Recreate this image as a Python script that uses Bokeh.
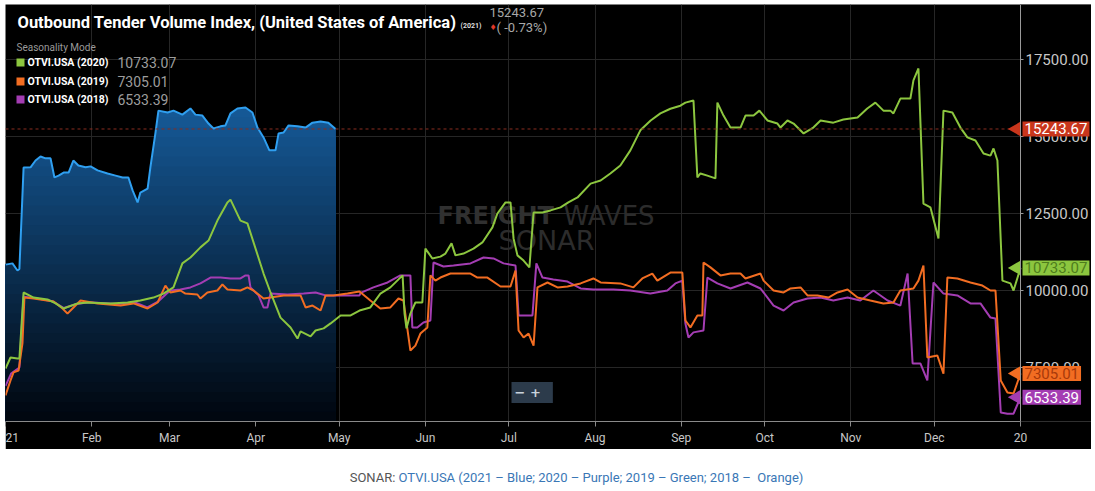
import numpy as np
from bokeh.plotting import figure
from bokeh.models import Range1d, FixedTicker, NumeralTickFormatter, Label, BoxAnnotation, Div
from bokeh.layouts import column
from bokeh.embed import file_html
from bokeh.resources import INLINE

# ---------------- data (x = day of year on the seasonality axis) ----------------
month_ticks = [0, 31, 59, 90, 120, 151, 181, 212, 243, 273, 304, 334, 365]
month_labels = ["21", "Feb", "Mar", "Apr", "May", "Jun", "Jul", "Aug", "Sep", "Oct", "Nov", "Dec", "20"]
y_ticks = [7500, 10000, 12500, 15000, 17500]

blue_2021 = [(0, 10840), (2.5, 10880), (4.3, 10650), (5, 10700), (6.5, 13990), (9, 14000), (10.8, 14220),
             (12.6, 14350), (14.4, 14290), (16.2, 14290), (17.6, 13670), (19.1, 13730), (20.9, 13830),
             (22.7, 13830), (24.4, 14220), (26.2, 14060), (28.8, 14000), (30.6, 14030), (33.1, 13900),
             (36.7, 13800), (39.6, 13730), (42.1, 13670), (44.2, 13670), (45.7, 13250), (47.5, 12860),
             (48.5, 13180), (51.1, 13310), (52.1, 14000), (53.9, 15100), (55, 15840), (58.3, 15780),
             (60.4, 15840), (63.6, 15710), (66.5, 15910), (68.3, 15710), (70.8, 15680), (73, 15420),
             (74.8, 15260), (77.3, 15330), (79.1, 15360), (80.9, 15750), (83.4, 15910), (86.3, 15940),
             (88.8, 15780), (90.6, 15290), (92.8, 14970), (94.9, 14550), (97.1, 14550), (98.2, 15100),
             (100, 15130), (101.8, 15360), (105, 15330), (107.9, 15290), (110.4, 15450), (113.3, 15490),
             (116.1, 15450), (118.7, 15243.67)]

green_2020 = [(0, 7467), (1.8, 7825), (4.3, 7790), (5.0, 7790), (6.5, 9935), (10.1, 9770), (15.1, 9710),
              (18.0, 9580), (20.9, 9415), (25.9, 9580), (29.5, 9610), (37.8, 9580), (43.9, 9610),
              (48.5, 9675), (53.2, 9770), (56.8, 9900), (60.4, 10100), (63.6, 10880), (66.5, 11070),
              (70.1, 11400), (73.0, 11620), (76.2, 12270), (79.8, 12860), (80.9, 12950), (84.5, 12270),
              (87.0, 12180), (92.8, 10550), (95.3, 9935), (98.9, 9120), (102.5, 8800), (105.0, 8440),
              (106.1, 8670), (109.7, 8510), (111.5, 8700), (114.4, 8770), (116.9, 8930), (120.5, 9190),
              (124.1, 9190), (127.3, 9350), (131.2, 9450), (134.8, 9900), (138.4, 10100), (142.8, 10490),
              (143.5, 9250), (144.2, 8770), (145.6, 9250), (147.4, 9610), (149.9, 9610), (151.0, 11360),
              (153.5, 11040), (156.4, 11100), (158.2, 11200), (160.4, 11530), (161.8, 11140),
              (164.7, 11200), (168.3, 11360), (171.5, 11560), (175.1, 12050), (176.9, 12500),
              (179.8, 12860), (181.6, 12860), (182.7, 11690), (184.1, 11140), (186.3, 10970),
              (188.4, 10750), (189.9, 12530), (193.1, 12530), (196.0, 12600), (199.6, 12700),
              (202.4, 12860), (205.7, 13020), (210.4, 13470), (214.0, 13570), (217.5, 13800),
              (221.1, 14060), (224.7, 14550), (228.3, 15200), (232.0, 15520), (235.5, 15750),
              (239.1, 15900), (242.7, 16000), (244.5, 16100), (247.4, 16170), (248.8, 13670),
              (249.9, 13800), (252.4, 13730), (255.3, 13640), (256.0, 16100), (258.2, 15680),
              (260.7, 15290), (264.3, 15290), (266.1, 15680), (269.0, 15680), (271.1, 15840),
              (274.0, 15520), (277.6, 15420), (278.7, 15290), (281.2, 15520), (283.4, 15420),
              (287.0, 15100), (290.5, 15290), (293.1, 15520), (297.7, 15450), (301.3, 15550),
              (306.4, 15620), (309.9, 15910), (312.8, 16100), (315.7, 15840), (318.2, 15840),
              (319.3, 15750), (321.8, 16230), (325.4, 16230), (326.5, 16820), (328.3, 17210),
              (330.1, 12820), (332.6, 12700), (335.5, 11690), (337.3, 15840), (340.5, 15780),
              (343.4, 15290), (345.9, 14970), (348.8, 14870), (351.7, 14450), (354.2, 14380),
              (355.3, 14610), (356.7, 14220), (358.5, 10320), (361.4, 10230), (362.5, 10000),
              (365, 10733.07)]

orange_2019 = [(0, 6590), (1.8, 7080), (2.9, 7340), (4.7, 7400), (6.1, 8280), (6.8, 9770), (10.1, 9740),
               (17.3, 9640), (20.5, 9415), (22.3, 9250), (24.1, 9415), (27.0, 9675), (33.1, 9580),
               (41.4, 9510), (46.0, 9580), (51.1, 9415), (54.7, 9610), (57.5, 10160), (59.3, 9935),
               (62.9, 10000), (64.7, 9900), (69.0, 9870), (70.1, 9740), (72.6, 9935), (76.2, 10000),
               (78.0, 10195), (79.8, 10030), (84.5, 10000), (87.0, 10100), (89.2, 10000), (92.8, 9740),
               (95.3, 9770), (100.0, 9840), (106.1, 9840), (107.9, 9450), (110.4, 9510), (113.3, 9350),
               (115.1, 9840), (117.9, 9840), (123.0, 9900), (127.3, 9970), (131.2, 9675), (134.8, 9415),
               (138.4, 9450), (141.3, 9740), (143.1, 9675), (145.6, 8050), (147.4, 8210), (149.2, 8600),
               (151.7, 8800), (152.8, 10490), (154.6, 10320), (156.4, 10420), (160.0, 10550),
               (163.6, 10550), (167.2, 10550), (169.7, 10420), (173.3, 10420), (178.0, 10130),
               (181.6, 10130), (183.4, 10650), (184.5, 8700), (186.3, 8475), (188.1, 8600), (189.9, 8210),
               (191.3, 10100), (194.9, 10260), (198.5, 10100), (202.1, 10130), (206.8, 10230),
               (211.4, 10390), (214.0, 10260), (221.1, 10230), (225.8, 10100), (229.0, 10390),
               (232.6, 10550), (234.4, 10320), (239.1, 10580), (243.4, 10580), (244.5, 9025),
               (246.3, 8800), (248.8, 9190), (250.6, 9190), (251.0, 10910), (253.5, 10750),
               (257.1, 10490), (260.7, 10550), (264.3, 10550), (266.1, 10390), (271.5, 10550),
               (272.6, 10320), (276.2, 10000), (279.8, 9935), (282.3, 10065), (285.9, 10100),
               (288.4, 9840), (292.0, 9840), (295.9, 9770), (299.2, 9935), (302.8, 10030), (306.4, 9770),
               (311.0, 9675), (315.7, 9580), (319.3, 9610), (321.8, 10000), (326.5, 10065),
               (328.3, 10320), (330.1, 10810), (331.5, 7825), (335.1, 7890), (337.3, 7300),
               (338.7, 10420), (342.3, 10390), (347.0, 10260), (351.3, 10160), (354.2, 10000),
               (356.0, 10000), (357.9, 7080), (360.3, 6690), (362.5, 6655), (365, 7305.01)]

purple_2018 = [(0, 6900), (2.0, 7300), (5.0, 7500), (6.5, 9800), (10.0, 9760), (17.0, 9650), (21.0, 9430),
               (25.0, 9550), (30.0, 9620), (40.0, 9560), (47.0, 9600), (51.0, 9450), (55.0, 9650),
               (58.0, 9900), (59.3, 10000), (62.9, 10030), (66.5, 10100), (70.1, 10230), (73.7, 10420),
               (77.3, 10420), (80.9, 10390), (84.5, 10390), (86.3, 10490), (87.4, 10490), (88.1, 10100),
               (91.0, 9840), (92.8, 9450), (94.2, 9450), (95.3, 9900), (101.4, 9870), (107.2, 9900),
               (111.5, 9935), (115.1, 9840), (120.5, 9840), (127.3, 9840), (127.7, 9920), (132.3, 10100),
               (137.4, 10260), (142.0, 10490), (145.6, 10490), (146.3, 8800), (148.1, 8800),
               (150.3, 8960), (152.8, 9025), (153.9, 10910), (157.5, 10780), (161.1, 10810),
               (167.2, 10880), (171.9, 11070), (175.5, 11040), (179.1, 10880), (183.4, 10810),
               (184.5, 9190), (187.7, 9190), (189.5, 9190), (190.9, 10880), (193.1, 10420),
               (197.0, 10360), (202.1, 10290), (206.8, 10065), (211.4, 10030), (218.6, 10030),
               (224.7, 10000), (231.9, 9900), (238.0, 10000), (240.9, 10230), (243.4, 10320),
               (244.5, 8930), (245.6, 8475), (247.4, 8640), (251.0, 8700), (252.4, 10420),
               (256.0, 10230), (260.7, 10065), (266.8, 10260), (271.5, 10065), (276.2, 9510),
               (279.8, 9350), (283.4, 9610), (288.4, 9740), (293.1, 9770), (297.7, 9675), (302.8, 9770),
               (307.4, 9675), (312.1, 10000), (317.2, 9675), (321.8, 9510), (324.4, 10550),
               (326.2, 7630), (329.0, 7630), (331.5, 7080), (333.7, 10260), (337.3, 9900),
               (342.3, 9840), (347.0, 9580), (350.6, 9580), (354.2, 9120), (356.0, 9090),
               (357.9, 6040), (360.3, 6000), (362.5, 6000), (365, 6533.39)]

last_2021 = 15243.67
change_2021 = "( -0.73%)"
legend_rows = [("OTVI.USA (2020)", "10733.07"), ("OTVI.USA (2019)", "7305.01"), ("OTVI.USA (2018)", "6533.39")]

# ---------------- styling ----------------
C_BLUE = "#2f9ff0"
C_GREEN = "#8cc63f"
C_ORANGE = "#f26d22"
C_PURPLE = "#a43db3"
C_RED = "#c9361c"

X0, X_END = 0, 365              # data span (Jan 1 .. Dec 31)
Y0, Y1 = 5746, 19286
FRAME_W, FRAME_H = 1015, 417    # pixels covered by the data span
FIG_W, FIG_H = 1086, 445
PAGE_LEFT, PAGE_TOP = 5, 4
X1 = X0 + (X_END - X0) * FIG_W / FRAME_W   # frame extends under the right-hand axis area


def px(xp):  # page pixel -> data x
    return X0 + (xp - PAGE_LEFT) * (X_END - X0) / FRAME_W


def py(yp):  # page pixel -> data y
    return Y1 - (yp - PAGE_TOP) * (Y1 - Y0) / FRAME_H


p = figure(width=FIG_W, height=FIG_H, x_range=Range1d(X0, X1), y_range=Range1d(Y0, Y1),
           y_axis_location="right", output_backend="svg", toolbar_location=None,
           background_fill_color="#000000", border_fill_color="#000000",
           min_border_left=0, min_border_top=0, min_border_right=0, min_border_bottom=28,
           outline_line_color=None)
p.margin = (PAGE_TOP, 4, 0, PAGE_LEFT)

xa = p.xaxis[0]
xa.ticker = FixedTicker(ticks=month_ticks)
xa.major_label_overrides = dict(zip(month_ticks, month_labels))
xa.bounds = (X0, X_END)
xa.axis_line_color = "#8a8a8a"
xa.major_tick_line_color = "#8a8a8a"
xa.major_tick_out = 5
xa.major_tick_in = 0
xa.minor_tick_line_color = None
xa.major_label_text_color = "#c8c8c8"
xa.major_label_text_font = "Roboto"
xa.major_label_text_font_size = "12px"
xa.major_label_standoff = 4

ya = p.yaxis[0]
ya.fixed_location = X_END
ya.ticker = FixedTicker(ticks=y_ticks)
ya.formatter = NumeralTickFormatter(format="0.00")
ya.axis_line_color = "#9a9a9a"
ya.major_tick_line_color = "#9a9a9a"
ya.major_tick_out = 3
ya.major_tick_in = 0
ya.minor_tick_line_color = None
ya.major_label_text_color = "#c8c8c8"
ya.major_label_text_font = "Roboto"
ya.major_label_text_font_size = "15px"
ya.major_label_standoff = 2

p.xgrid.ticker = FixedTicker(ticks=month_ticks)
p.ygrid.ticker = FixedTicker(ticks=y_ticks)
p.xgrid.grid_line_color = "#262626"
p.ygrid.grid_line_color = "#262626"
# keep the axis strip on the right free of grid lines
p.add_layout(BoxAnnotation(left=X_END, fill_color="#000000", fill_alpha=1.0, line_color=None, level="underlay"))

# ---------------- watermark ----------------
for txt, xx, yy, size, style, col, align in [
        ("FREIGHT", 437, 215, "24px", "bold", "#303030", "left"),
        ("WAVES", 563, 215, "26px", "normal", "#2c2c2c", "left"),
        ("SONAR", 546, 240, "27px", "normal", "#2c2c2c", "center")]:
    p.add_layout(Label(x=px(xx), y=py(yy), text=txt, text_font="DejaVu Sans", text_font_size=size,
                       text_font_style=style, text_color=col, text_align=align,
                       text_baseline="middle", level="underlay"))

# ---------------- 2021 gradient area (layered from the top colour down, no seams) ----------------
bx = np.array([d for d, v in blue_2021], dtype=float)
bv = np.array([v for d, v in blue_2021], dtype=float)
n_bands = 32
top_v = bv.max()
edges = np.linspace(Y0, top_v, n_bands + 1)
xs = list(bx)
for i in range(len(bx) - 1):
    v0, v1 = bv[i], bv[i + 1]
    if v0 == v1:
        continue
    for e in edges:
        if min(v0, v1) < e < max(v0, v1):
            xs.append(bx[i] + (e - v0) / (v1 - v0) * (bx[i + 1] - bx[i]))
xs = np.array(sorted(set(xs)))
vs = np.interp(xs, bx, bv)
top_c = np.array([22, 90, 152])
bot_c = np.array([1, 6, 14])
for i in reversed(range(n_bands)):
    hi = edges[i + 1]
    t = ((edges[i] + hi) / 2 - Y0) / (top_v - Y0)
    c = (bot_c + (top_c - bot_c) * t).astype(int)
    col = "#%02x%02x%02x" % tuple(c)
    p.varea(x=xs, y1=np.full_like(xs, Y0), y2=np.minimum(vs, hi), fill_color=col)

# ---------------- lines ----------------
for data, col in [(blue_2021, C_BLUE), (purple_2018, C_PURPLE), (orange_2019, C_ORANGE), (green_2020, C_GREEN)]:
    p.line([d for d, v in data], [v for d, v in data], line_color=col, line_width=2)

# dashed marker of the latest 2021 value
p.segment(x0=[X0], x1=[X_END], y0=[last_2021], y1=[last_2021], line_color="#8a2d20",
          line_dash="3 3", line_width=1)

# ---------------- value tags on the right ----------------
tags = [(last_2021, "15243.67", C_RED, "#ffffff"),
        (green_2020[-1][1], "10733.07", C_GREEN, "#4e7d1c"),
        (orange_2019[-1][1], "7305.01", C_ORANGE, "#a8390a"),
        (purple_2018[-1][1], "6533.39", C_PURPLE, "#ffffff")]
p.scatter(x=[px(1016)] * 4, y=[t[0] for t in tags], marker="triangle", size=15, angle=np.pi / 2,
          fill_color=[t[2] for t in tags], line_color=None)
for yv, txt, bg, fg in tags:
    p.add_layout(Label(x=X_END, y=yv, x_offset=2, text=txt, text_baseline="middle", text_align="left",
                       text_font="Roboto", text_font_size="15px", text_color=fg,
                       background_fill_color=bg, padding=2))

# ---------------- title & legend ----------------
p.add_layout(Label(x=px(17), y=py(22), text="Outbound Tender Volume Index, (United States of America)",
                   text_font="Roboto", text_font_style="bold", text_font_size="16.5px",
                   text_color="#ffffff", text_baseline="middle"))
p.add_layout(Label(x=px(460), y=py(25), text="(2021)", text_font="Roboto", text_font_style="bold",
                   text_font_size="7px", text_color="#dddddd", text_baseline="middle"))
p.add_layout(Label(x=px(489), y=py(12), text="15243.67", text_font="Roboto", text_font_size="13px",
                   text_color="#a8a8a8", text_baseline="middle"))
p.add_layout(Label(x=px(489), y=py(27), text="\u2666", text_font="DejaVu Sans", text_font_size="8px",
                   text_color="#e0392a", text_baseline="middle"))
p.add_layout(Label(x=px(496), y=py(27), text=change_2021, text_font="Roboto", text_font_size="13px",
                   text_color="#a8a8a8", text_baseline="middle"))

p.add_layout(Label(x=px(16), y=py(47), text="Seasonality Mode", text_font="Roboto", text_font_size="10px",
                   text_color="#9a9a9a", text_baseline="middle"))
row_y = [62, 81, 99]
p.scatter(x=[px(20)] * 3, y=[py(v) for v in row_y], marker="square", size=8,
          fill_color=[C_GREEN, C_ORANGE, C_PURPLE], line_color=None)
for (name, val), yy in zip(legend_rows, row_y):
    p.add_layout(Label(x=px(27), y=py(yy), text=name, text_font="Roboto",
                       text_font_style="bold", text_font_size="10.5px", text_color="#ffffff",
                       text_baseline="middle"))
    p.add_layout(Label(x=px(117), y=py(yy), text=val, text_font="Roboto", text_font_size="14px",
                       text_color="#9d9d9d", text_baseline="middle"))

# zoom control
p.add_layout(Label(x=px(511), y=py(392), text="\u2212   +", text_font="DejaVu Sans", text_font_size="13px",
                   text_font_style="bold", text_color="#c9d3dc", text_baseline="middle",
                   background_fill_color="#2c3b4b", padding=3))

caption = Div(text="<span style='color:#555555'>SONAR: </span>"
                   "<span style='color:#3a77b6'>OTVI.USA (2021 \u2013 Blue; 2020 \u2013 Purple; "
                   "2019 \u2013 Green; 2018 \u2013&nbsp; Orange)</span>",
              width=1095, height=22, margin=(20, 0, 0, 0),
              styles={"text-align": "center", "padding-left": "58px", "box-sizing": "border-box",
                      "font-family": "Roboto", "font-size": "13px"})

layout = column(p, caption)
open("out.html", "w").write(file_html(layout, INLINE))
